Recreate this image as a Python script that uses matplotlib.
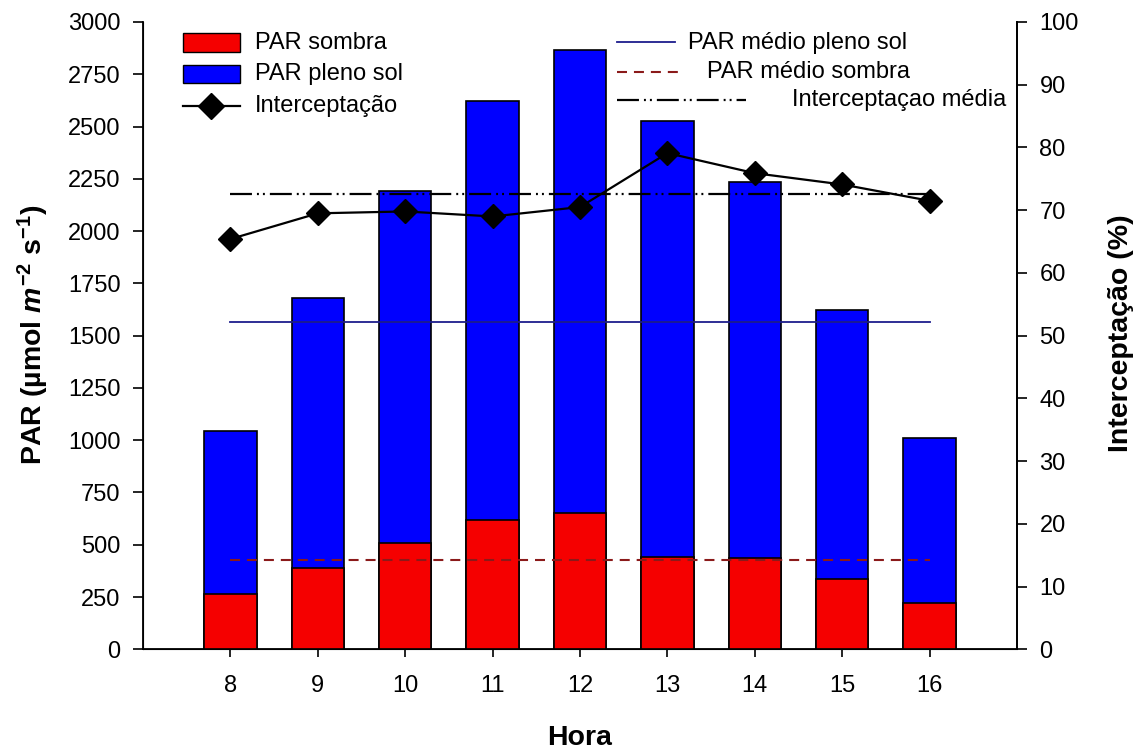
import matplotlib
matplotlib.use("Agg")
import matplotlib.pyplot as plt
from matplotlib.patches import Rectangle
from matplotlib.lines import Line2D

plt.rcParams['font.family'] = ['Liberation Sans', 'DejaVu Sans']
plt.rcParams['mathtext.fontset'] = 'custom'
plt.rcParams['mathtext.rm'] = 'Liberation Sans:bold'
plt.rcParams['mathtext.it'] = 'Liberation Sans:bold:italic'
plt.rcParams['mathtext.bf'] = 'Liberation Sans:bold'
plt.rcParams['lines.scale_dashes'] = False

# Data
hours = [8, 9, 10, 11, 12, 13, 14, 15, 16]
par_pleno_sol = [1043, 1678, 2190, 2620, 2868, 2526, 2233, 1624, 1010]
par_sombra = [265, 390, 506, 618, 650, 440, 435, 334, 221]
interceptacao = [65.4, 69.5, 69.8, 69.0, 70.5, 79.1, 75.9, 74.1, 71.5]
par_medio_pleno_sol = 1567
par_medio_sombra = 428
interceptacao_media = 72.6

left_ticks = [0, 250, 500, 750, 1000, 1250, 1500, 1750, 2000, 2250, 2500, 2750, 3000]
right_ticks = [0, 10, 20, 30, 40, 50, 60, 70, 80, 90, 100]

W, H = 1138, 752
fig = plt.figure(figsize=(W / 100, H / 100), dpi=100)
ax = fig.add_axes([143 / W, 1 - 649.3 / H, (1017 - 143) / W, (649.3 - 22) / H])

FS = 17
LFS = 20.5
BLUE = '#0000ff'
RED = '#f50000'
NAVY = '#1c1c8c'
DARKRED = '#8b1a1a'
DASH = (0, (7.2, 5.0))
DASHDOTDOT = (0, (15.8, 3.6, 1.4, 2.9, 1.4, 3.6))

bw = 0.6
ax.bar(hours, par_pleno_sol, width=bw, color=BLUE, edgecolor='black', linewidth=1.2, zorder=2)
ax.bar(hours, par_sombra, width=bw, color=RED, edgecolor='black', linewidth=1.2, zorder=3)
ax.plot([hours[0], hours[-1]], [par_medio_pleno_sol] * 2, color=NAVY, lw=1.3, zorder=4)
ax.plot([hours[0], hours[-1]], [par_medio_sombra] * 2, color=DARKRED, lw=1.5,
        linestyle=DASH, zorder=4)

ax.set_xlim(7, 17)
ax.set_ylim(0, 3000)
ax.set_xticks(hours)
ax.set_yticks(left_ticks)
ax.tick_params(axis='y', direction='out', length=7.2, width=1.2, labelsize=FS, pad=9)
ax.tick_params(axis='x', direction='out', length=5.8, width=1.2, labelsize=FS, pad=12.5)
ax.spines['top'].set_visible(False)
for s in ['left', 'bottom', 'right']:
    ax.spines[s].set_linewidth(1.3)

ax2 = ax.twinx()
ax2.set_ylim(0, 100)
ax2.set_yticks(right_ticks)
ax2.tick_params(axis='y', direction='out', length=7.2, width=1.2, labelsize=FS, pad=9)
ax2.spines['top'].set_visible(False)
ax2.spines['right'].set_linewidth(1.3)
ax2.plot(hours, interceptacao, color='black', lw=1.6, marker='D', markersize=12,
         markerfacecolor='black', zorder=5)
ax2.plot([hours[0], hours[-1]], [interceptacao_media] * 2, color='black', lw=1.6,
         linestyle=DASHDOTDOT, zorder=4)

# Axis titles, placed in pixel space
fig.text(580 / W, 1 - 738 / H, 'Hora', fontsize=LFS, fontweight='bold',
         ha='center', va='center')
fig.text(33 / W, 1 - 335 / H,
         r'PAR (µmol $\mathit{m}^{\mathrm{-2}}$ $\mathrm{s}^{\mathrm{-1}}$)',
         fontsize=LFS, fontweight='bold', rotation=90, ha='center', va='center')
fig.text(1121 / W, 1 - 333 / H, 'Interceptação (%)', fontsize=LFS, fontweight='bold',
         rotation=90, ha='center', va='center')

# Legend keys, laid out in pixel space over the whole figure
ov = fig.add_axes([0, 0, 1, 1], zorder=10)
ov.set_xlim(0, W)
ov.set_ylim(H, 0)
ov.axis('off')
ov.patch.set_alpha(0)

ov.add_patch(Rectangle((183, 33), 57, 19, facecolor=RED, edgecolor='black', lw=1.0))
ov.text(255, 43, 'PAR sombra', fontsize=FS, va='center', ha='left')
ov.add_patch(Rectangle((183, 65), 57, 18, facecolor=BLUE, edgecolor='black', lw=1.0))
ov.text(255, 74, 'PAR pleno sol', fontsize=FS, va='center', ha='left')
ov.add_line(Line2D([183, 240], [106, 106], color='black', lw=1.6))
ov.add_line(Line2D([211], [106], marker='D', markersize=13, color='black'))
ov.text(255, 106, 'Interceptação', fontsize=FS, va='center', ha='left')

ov.add_line(Line2D([617, 675], [42, 42], color=NAVY, lw=1.3))
ov.text(688, 43, 'PAR médio pleno sol', fontsize=FS, va='center', ha='left')
ov.add_line(Line2D([617, 678], [72, 72], color=DARKRED, lw=1.5, linestyle=DASH))
ov.text(707, 72, 'PAR médio sombra', fontsize=FS, va='center', ha='left')
ov.add_line(Line2D([617, 746], [100, 100], color='black', lw=1.6, linestyle=DASHDOTDOT))
ov.text(1006, 100, 'Interceptaçao média', fontsize=FS, va='center', ha='right')

fig.savefig('out.png', dpi=100)
